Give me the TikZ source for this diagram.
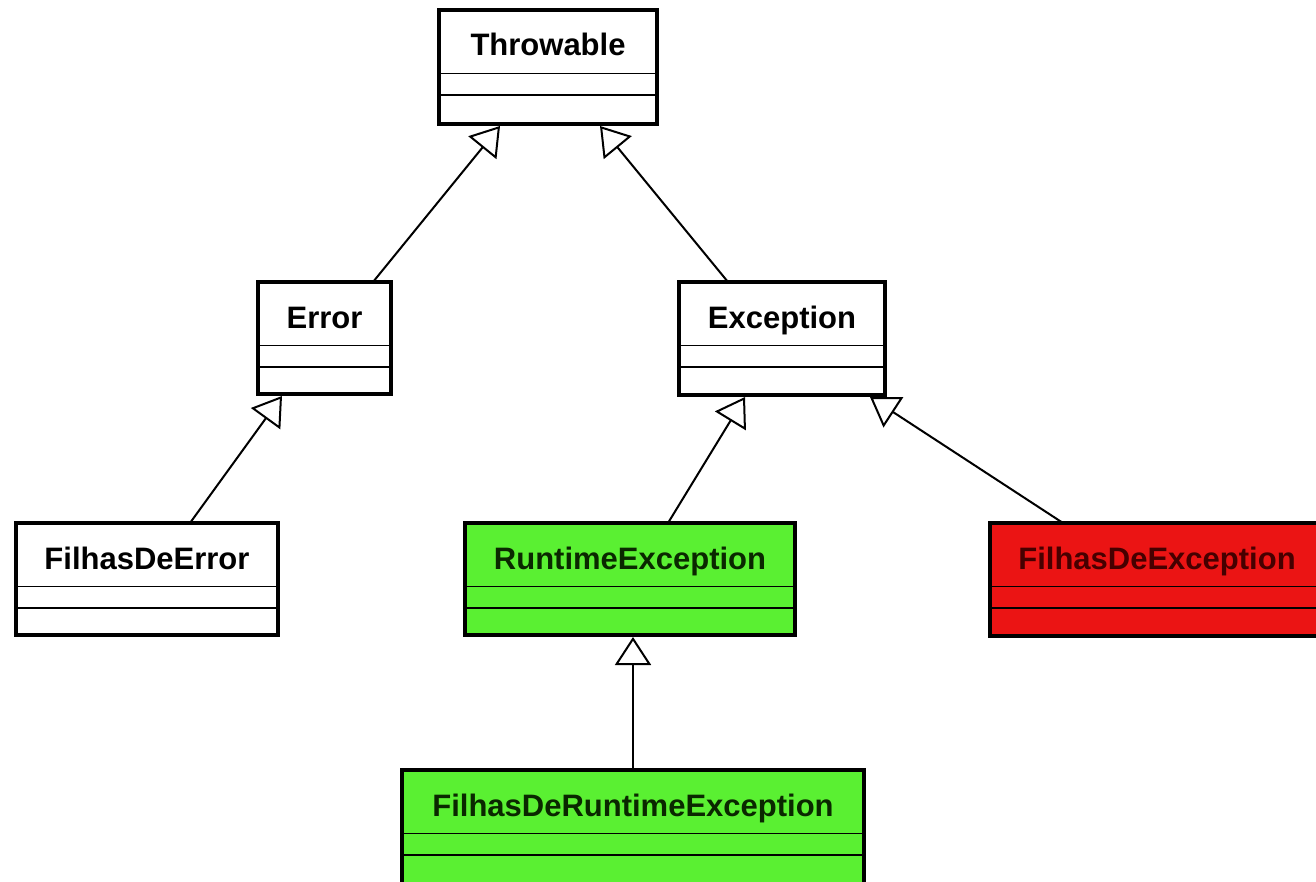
\documentclass[tikz,border=0pt]{standalone}
\usepackage{fontspec}
\setmainfont{Liberation Sans}
\usetikzlibrary{arrows.meta}
\definecolor{umlgreen}{RGB}{90,240,50}
\definecolor{umlred}{RGB}{235,20,20}
\definecolor{redtext}{RGB}{70,0,0}
\definecolor{greentext}{RGB}{10,40,0}
\tikzset{
  whitecls/.style={fill=white,text=black},
  greencls/.style={fill=umlgreen,text=greentext},
  redcls/.style={fill=umlred,text=redtext},
  clsbox/.style={draw=black,line width=4pt,inner sep=0pt,outer sep=0pt},
  seprule/.style={draw=black,line width=1.6pt},
  clslabel/.style={font=\fontsize{31}{31}\selectfont\bfseries,anchor=base,inner sep=0pt},
  inh/.style={draw=black,line width=2pt,-{Triangle[open,length=28pt,width=36pt,line width=2pt]}},
}
\newcommand\umlclass[7]{%
  \node[clsbox,#6,minimum width={(#4)-(#2)-4},minimum height={(#5)-(#3)-4},anchor=north west] (#1) at ({#2+2},{#3+2}) {};
  \draw[seprule] ({#2+2},{#3+65.5}) -- ({#4-2},{#3+65.5});
  \draw[seprule] ({#2+2},{#3+87}) -- ({#4-2},{#3+87});
  \node[clslabel,#6] (#1-name) at ({(#2+#4)/2},{#3+48}) {#7};
}
\begin{document}
\begin{tikzpicture}[x=1pt,y=-1pt]
  \useasboundingbox (0,0) rectangle (1316,882);
  \clip (0,0) rectangle (1316,882);
  \fill[white] (0,0) rectangle (1316,882);

  \umlclass{thr}{437}{8}{659}{126}{whitecls}{Throwable}
  \umlclass{err}{256}{280}{393}{396}{whitecls}{Error}
  \umlclass{exc}{677}{280}{887}{397}{whitecls}{Exception}
  \umlclass{fde}{14}{521}{280}{637}{whitecls}{FilhasDeError}
  \umlclass{rte}{463}{521}{797}{637}{greencls}{RuntimeException}
  \umlclass{fdx}{988}{521}{1326}{638}{redcls}{FilhasDeException}
  \umlclass{fdr}{400}{768}{866}{892}{greencls}{FilhasDeRuntimeException}

  \draw[inh] ([xshift=48.5pt]err.north) -- ([xshift=-48pt,yshift=-2pt]thr.south);
  \draw[inh] ([xshift=-54pt]exc.north) -- ([xshift=52pt,yshift=-2pt]thr.south);
  \draw[inh] ([xshift=43pt]fde.north) -- ([xshift=-42.5pt,yshift=-2pt]err.south);
  \draw[inh] ([xshift=38pt]rte.north) -- ([xshift=-37pt,yshift=-2pt]exc.south);
  \draw[inh] ([xshift=-94pt]fdx.north) -- ([xshift=88pt,yshift=-2pt]exc.south);
  \draw[inh] ([xshift=0pt]fdr.north) -- ([xshift=3pt,yshift=-2pt]rte.south);
\end{tikzpicture}
\end{document}
